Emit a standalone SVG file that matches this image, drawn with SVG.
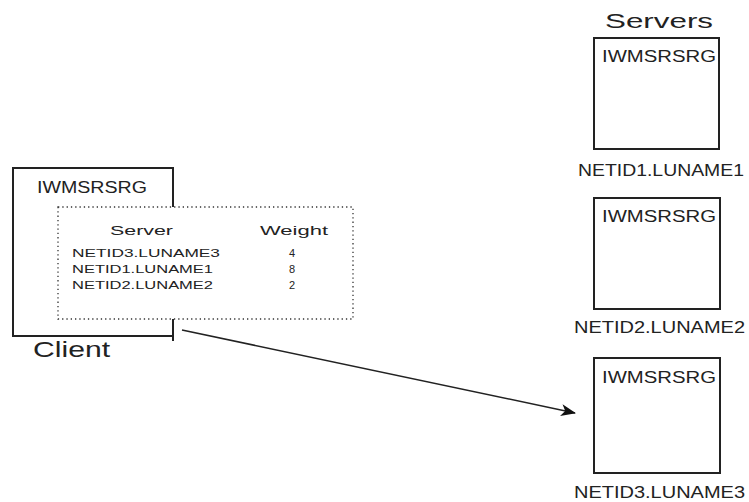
<svg xmlns="http://www.w3.org/2000/svg" width="749" height="502" viewBox="0 0 749 502">
<defs>
<style>
.box{fill:none;stroke:#222;stroke-width:2}
.t{font-family:"Liberation Sans",Arial,sans-serif;fill:#222}
.dot{fill:#fff;stroke:#333;stroke-width:1.3;stroke-dasharray:1.3 3}
.conn{stroke:#222;stroke-width:1.5;fill:none}
</style>
<marker id="ah" viewBox="0 0 15 12" refX="14" refY="6" markerWidth="15" markerHeight="12" markerUnits="userSpaceOnUse" orient="auto">
<path d="M0,0 L15,6 L0,12 L4,6 Z" fill="#111"/>
</marker>
</defs>
<rect width="749" height="502" fill="#fff"/>
<g id="client">
<rect class="box" x="13" y="168" width="160" height="168"/>
<text class="t" x="37" y="193" font-size="16" textLength="110" lengthAdjust="spacingAndGlyphs">IWMSRSRG</text>
<rect class="dot" x="58" y="207" width="295" height="112"/>
<line x1="173" y1="319" x2="173" y2="341" stroke="#222" stroke-width="2"/>
<text class="t" x="110" y="235" font-size="13" textLength="63" lengthAdjust="spacingAndGlyphs">Server</text>
<text class="t" x="260" y="235" font-size="13" textLength="68" lengthAdjust="spacingAndGlyphs">Weight</text>
<text class="t" x="72" y="257" font-size="11" textLength="148" lengthAdjust="spacingAndGlyphs">NETID3.LUNAME3</text>
<text class="t" x="72" y="273" font-size="11" textLength="141" lengthAdjust="spacingAndGlyphs">NETID1.LUNAME1</text>
<text class="t" x="72" y="289" font-size="11" textLength="141" lengthAdjust="spacingAndGlyphs">NETID2.LUNAME2</text>
<text class="t" x="292" y="257" font-size="11" text-anchor="middle">4</text>
<text class="t" x="292" y="273" font-size="11" text-anchor="middle">8</text>
<text class="t" x="292" y="289" font-size="11" text-anchor="middle">2</text>
<text class="t" x="33" y="357" font-size="22" textLength="77" lengthAdjust="spacingAndGlyphs">Client</text>
</g>
<text class="t" x="605" y="28" font-size="21" textLength="108" lengthAdjust="spacingAndGlyphs">Servers</text>
<g id="server1">
<rect class="box" x="594" y="38" width="125" height="111"/>
<text class="t" x="602" y="62" font-size="16" textLength="114" lengthAdjust="spacingAndGlyphs">IWMSRSRG</text>
<text class="t" x="578" y="176" font-size="17" textLength="166" lengthAdjust="spacingAndGlyphs">NETID1.LUNAME1</text>
</g>
<g id="server2">
<rect class="box" x="594" y="198" width="126" height="111"/>
<text class="t" x="602" y="222" font-size="16" textLength="114" lengthAdjust="spacingAndGlyphs">IWMSRSRG</text>
<text class="t" x="574" y="333" font-size="17" textLength="171" lengthAdjust="spacingAndGlyphs">NETID2.LUNAME2</text>
</g>
<g id="server3">
<rect class="box" x="594" y="358" width="126" height="115"/>
<text class="t" x="602" y="383" font-size="16" textLength="114" lengthAdjust="spacingAndGlyphs">IWMSRSRG</text>
<text class="t" x="574" y="498" font-size="17" textLength="171" lengthAdjust="spacingAndGlyphs">NETID3.LUNAME3</text>
</g>
<g id="connectors">
<line class="conn" x1="182" y1="330" x2="575" y2="413" marker-end="url(#ah)"/>
</g>
</svg>
